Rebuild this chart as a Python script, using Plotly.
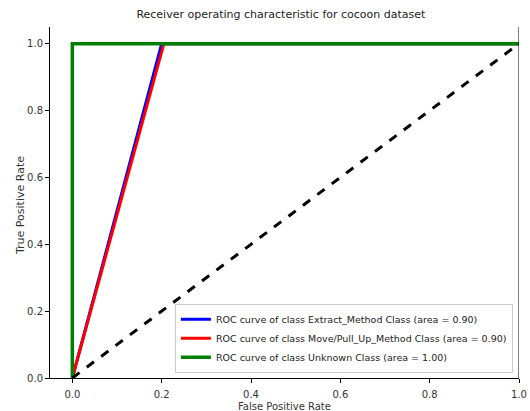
import plotly.graph_objects as go

# ROC points per class (false positive rate, true positive rate)
fpr_extract = [0.0, 0.2, 1.0]
tpr_extract = [0.0, 1.0, 1.0]
fpr_move = [0.0, 0.205, 1.0]
tpr_move = [0.0, 1.0, 1.0]
fpr_unknown = [0.0, 0.0, 1.0]
tpr_unknown = [0.0, 1.0, 1.0]
chance_x = [0.0, 1.0]
chance_y = [0.0, 1.0]

names = [
    "ROC curve of class Extract_Method Class (area = 0.90)",
    "ROC curve of class Move/Pull_Up_Method Class (area = 0.90)",
    "ROC curve of class Unknown Class (area = 1.00)",
]
ticks = [0.0, 0.2, 0.4, 0.6, 0.8, 1.0]
tick_text = ["0.0", "0.2", "0.4", "0.6", "0.8", "1.0"]

font = "DejaVu Sans, sans-serif"

fig = go.Figure()
fig.add_trace(go.Scatter(x=fpr_extract, y=tpr_extract, mode="lines", name=names[0],
                         line=dict(color="#0000ff", width=3)))
fig.add_trace(go.Scatter(x=fpr_move, y=tpr_move, mode="lines", name=names[1],
                         line=dict(color="#ff0000", width=3)))
fig.add_trace(go.Scatter(x=fpr_unknown, y=tpr_unknown, mode="lines", name=names[2],
                         line=dict(color="#008000", width=3.5)))
fig.add_trace(go.Scatter(x=chance_x, y=chance_y, mode="lines", showlegend=False,
                         line=dict(color="black", width=3, dash="dash")))

axis_common = dict(
    tickvals=ticks, ticktext=tick_text, showgrid=False, zeroline=False,
    ticks="outside", ticklen=4, tickwidth=1, tickcolor="black",
    showline=True, linecolor="black", linewidth=1, automargin=False,
    tickfont=dict(family=font, size=10, color="#333333"),
)

fig.update_layout(
    width=530, height=411,
    margin=dict(l=50, r=11, t=27, b=33),
    paper_bgcolor="white", plot_bgcolor="white",
    title=dict(text="Receiver operating characteristic for cocoon dataset",
               x=0.53, xanchor="center", y=0.965, yanchor="middle",
               font=dict(family=font, size=11, color="#222222")),
    xaxis=dict(range=[-0.05, 1.0], ticklabelstandoff=3, **axis_common),
    yaxis=dict(range=[0.0, 1.05], **axis_common),
    legend=dict(x=0.987, y=0.015, xanchor="right", yanchor="bottom",
                bgcolor="rgba(255,255,255,0.9)", bordercolor="#cccccc", borderwidth=1,
                font=dict(family=font, size=9.5, color="#222222"),
                tracegroupgap=0, itemwidth=30),
    showlegend=True,
)

# axis labels placed as annotations next to the tick labels
fig.add_annotation(text="False Positive Rate", xref="paper", yref="paper",
                   x=0.5, y=0, yshift=-28, xanchor="center", yanchor="middle",
                   showarrow=False, font=dict(family=font, size=10, color="#333333"))
fig.add_annotation(text="True Positive Rate", xref="paper", yref="paper",
                   x=0, y=0.49, xshift=-30, xanchor="center", yanchor="middle",
                   textangle=-90, showarrow=False,
                   font=dict(family=font, size=11, color="#333333"))

# right-hand spine
fig.add_shape(type="line", xref="x", yref="paper", x0=1.0, x1=1.0, y0=0, y1=1,
              line=dict(color="black", width=1))

fig.write_html("out.html")
